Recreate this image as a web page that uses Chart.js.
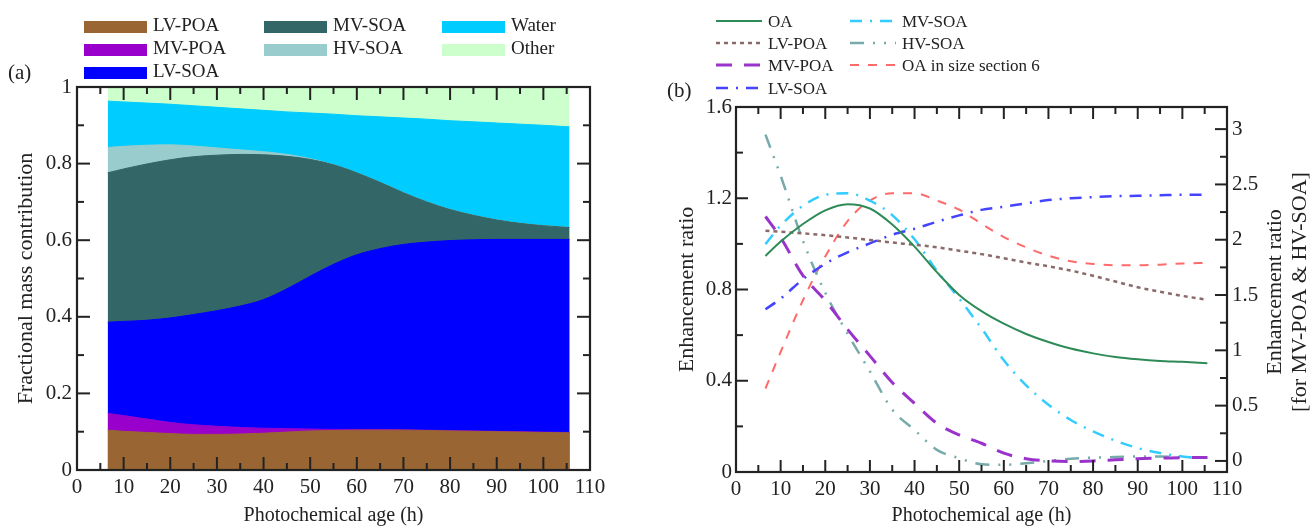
<!DOCTYPE html>
<html>
<head>
<meta charset="utf-8">
<script src="https://cdn.jsdelivr.net/npm/chart.js@4.4.1/dist/chart.umd.min.js"></script>
<style>
  html, body { margin: 0; padding: 0; background: #fff; }
  body { width: 1312px; height: 528px; position: relative; overflow: hidden; font-family: "Liberation Serif", "Times New Roman", serif; }
  #wrapA { position: absolute; left: 0; top: 0; width: 640px; height: 528px; }
  #wrapB { position: absolute; left: 640px; top: 0; width: 672px; height: 528px; }
  .panel { position: absolute; font-size: 21px; color: #222; line-height: 1; }
</style>
</head>
<body>
<div id="wrapA"><canvas id="massChart" width="640" height="528"></canvas></div>
<div id="wrapB"><canvas id="ratioChart" width="672" height="528"></canvas></div>
<div class="panel" style="left:8px; top:62px;">(a)</div>
<div class="panel" style="left:667px; top:80px;">(b)</div>
<script>
// photochemical age (h) shared by both panels
const ageHours = [6.6, 10, 15, 20, 25, 30, 35, 40, 45, 50, 55, 60, 65, 70, 75, 80, 85, 90, 95, 100, 105.6];

// (a) fractional mass contribution, stacked from bottom to top
const lvPoaFrac = [0.104, 0.101, 0.098, 0.095, 0.093, 0.093, 0.094, 0.096, 0.099, 0.102, 0.103, 0.104, 0.104, 0.104, 0.103, 0.102, 0.101, 0.100, 0.099, 0.098, 0.097];
const mvPoaFrac = [0.044, 0.041, 0.035, 0.029, 0.025, 0.021, 0.017, 0.013, 0.009, 0.005, 0.003, 0.002, 0.002, 0.001, 0.001, 0.001, 0.001, 0.001, 0.001, 0.001, 0.001];
const lvSoaFrac = [0.238, 0.246, 0.258, 0.273, 0.288, 0.302, 0.317, 0.336, 0.365, 0.399, 0.431, 0.456, 0.472, 0.484, 0.491, 0.496, 0.499, 0.501, 0.502, 0.503, 0.504];
const mvSoaFrac = [0.390, 0.398, 0.408, 0.413, 0.412, 0.406, 0.396, 0.378, 0.346, 0.305, 0.260, 0.214, 0.173, 0.135, 0.105, 0.081, 0.064, 0.051, 0.042, 0.036, 0.031];
const hvSoaFrac = [0.066, 0.059, 0.049, 0.039, 0.028, 0.019, 0.012, 0.008, 0.005, 0.002, 0, 0, 0, 0, 0, 0, 0, 0, 0, 0, 0];
const waterFrac = [0.121, 0.116, 0.110, 0.106, 0.105, 0.106, 0.107, 0.108, 0.111, 0.119, 0.132, 0.149, 0.171, 0.195, 0.216, 0.232, 0.244, 0.253, 0.259, 0.262, 0.263];
const otherFrac = [0.037, 0.039, 0.042, 0.045, 0.049, 0.053, 0.057, 0.061, 0.065, 0.068, 0.071, 0.075, 0.078, 0.081, 0.084, 0.088, 0.091, 0.094, 0.097, 0.100, 0.104];

// (b) enhancement ratios (left axis)
const oaRatio = [0.947, 1.01, 1.087, 1.147, 1.174, 1.155, 1.085, 0.988, 0.876, 0.776, 0.705, 0.65, 0.605, 0.57, 0.541, 0.52, 0.504, 0.494, 0.487, 0.483, 0.477];
const lvPoaRatio = [1.057, 1.053, 1.046, 1.038, 1.028, 1.017, 1.006, 0.996, 0.985, 0.970, 0.955, 0.937, 0.918, 0.902, 0.883, 0.860, 0.835, 0.810, 0.790, 0.772, 0.755];
const lvSoaRatio = [0.713, 0.76, 0.845, 0.913, 0.963, 1.002, 1.04, 1.066, 1.097, 1.125, 1.149, 1.163, 1.178, 1.192, 1.2, 1.205, 1.209, 1.211, 1.213, 1.215, 1.216];
const mvSoaRatio = [0.999, 1.08, 1.167, 1.215, 1.222, 1.19, 1.126, 1.02, 0.882, 0.76, 0.63, 0.49, 0.38, 0.295, 0.228, 0.178, 0.137, 0.105, 0.083, 0.068, 0.06];
const oaSec6Ratio = [0.366, 0.526, 0.753, 0.945, 1.10, 1.19, 1.222, 1.222, 1.19, 1.15, 1.088, 1.03, 0.985, 0.948, 0.924, 0.912, 0.906, 0.906, 0.909, 0.914, 0.917];
// (b) right axis: MV-POA & HV-SOA
const mvPoaRatio = [2.21, 2.02, 1.676, 1.45, 1.19, 0.95, 0.71, 0.52, 0.34, 0.235, 0.16, 0.07, 0.02, 0.0, -0.005, 0.0, 0.01, 0.02, 0.025, 0.03, 0.03];
const hvSoaRatio = [2.95, 2.58, 1.99, 1.52, 1.15, 0.81, 0.465, 0.28, 0.1, 0.025, -0.03, -0.035, -0.02, 0.0, 0.02, 0.03, 0.035, 0.04, 0.04, 0.035, 0.03];

const rightAxisTicks = [0, 0.5, 1, 1.5, 2, 2.5, 3];

const INK = '#222';
const SERIF = '"Liberation Serif", "Times New Roman", serif';
const fmt = v => String(+Number(v).toFixed(2));
const toPoints = ys => ageHours.map((x, i) => ({ x, y: ys[i] }));

// frame + inward major/minor ticks on the sides listed per scale
const frameTicks = {
    id: 'frameTicks',
    afterDraw(chart, args, opts) {
        const { ctx, chartArea: a, scales } = chart;
        ctx.save();
        ctx.strokeStyle = INK;
        ctx.lineWidth = 2;
        Object.keys(opts.sides).forEach(id => {
            const scale = scales[id];
            const vals = scale.ticks.map(t => t.value);
            const step = vals[1] - vals[0];
            const marks = vals.map(v => [v, opts.major]);
            for (let v = vals[0] - step / 2; v <= scale.max + 1e-9; v += step) {
                if (v >= scale.min - 1e-9) marks.push([v, opts.minor]);
            }
            marks.forEach(([v, len]) => {
                const p = scale.getPixelForValue(v);
                opts.sides[id].forEach(side => {
                    ctx.beginPath();
                    if (side === 'bottom') { ctx.moveTo(p, a.bottom); ctx.lineTo(p, a.bottom - len); }
                    if (side === 'top') { ctx.moveTo(p, a.top); ctx.lineTo(p, a.top + len); }
                    if (side === 'left') { ctx.moveTo(a.left, p); ctx.lineTo(a.left + len, p); }
                    if (side === 'right') { ctx.moveTo(a.right, p); ctx.lineTo(a.right - len, p); }
                    ctx.stroke();
                });
            });
        });
        ctx.lineWidth = 2.2;
        ctx.strokeRect(a.left, a.top, a.right - a.left, a.bottom - a.top);
        ctx.restore();
    }
};

// legend laid out in fixed columns, drawn from the datasets themselves
const slotLegend = {
    id: 'slotLegend',
    afterDraw(chart, args, opts) {
        const { ctx } = chart;
        ctx.save();
        ctx.font = opts.font;
        ctx.textBaseline = 'alphabetic';
        chart.data.datasets.forEach((ds, i) => {
            const [x, y] = opts.slots[i];
            if (opts.kind === 'box') {
                ctx.fillStyle = ds.backgroundColor;
                ctx.fillRect(x, y - 6, opts.sampleW, 12);
            } else {
                ctx.strokeStyle = ds.borderColor;
                ctx.lineWidth = ds.borderWidth;
                ctx.setLineDash(ds.borderDash || []);
                ctx.beginPath();
                ctx.moveTo(x, y);
                ctx.lineTo(x + opts.sampleW, y);
                ctx.stroke();
                ctx.setLineDash([]);
            }
            ctx.fillStyle = INK;
            ctx.fillText(ds.label, x + opts.sampleW + opts.gap, y + opts.textDy);
        });
        if (opts.sideTitle) {
            // right-hand axis title, reading bottom to top like the left one
            const t = opts.sideTitle;
            ctx.font = t.font;
            ctx.textAlign = 'center';
            ctx.textBaseline = 'middle';
            t.lines.forEach((line, k) => {
                ctx.save();
                ctx.translate(t.x[k], t.y);
                ctx.rotate(-Math.PI / 2);
                ctx.fillText(line, 0, 0);
                ctx.restore();
            });
        }
        ctx.restore();
    }
};

const axisX = (height) => ({
    type: 'linear', min: 0, max: 110,
    grid: { display: false, drawTicks: false }, border: { display: false },
    ticks: { stepSize: 10, padding: 5, color: INK, font: { family: SERIF, size: 21 }, maxRotation: 0, callback: fmt },
    title: { display: true, text: 'Photochemical age (h)', color: INK, font: { family: SERIF, size: 20 }, padding: { top: 0, bottom: 0 } },
    afterFit: s => { s.height = height; }
});

// ---- (a) stacked areas ----
const areaSet = (label, ys, color) => ({
    label, data: toPoints(ys), backgroundColor: color, borderColor: color,
    borderWidth: 1, fill: 'origin', pointRadius: 0, cubicInterpolationMode: 'monotone'
});

new Chart(document.getElementById('massChart'), {
    type: 'line',
    data: {
        datasets: [
            areaSet('LV-POA', lvPoaFrac, '#996633'),
            areaSet('MV-POA', mvPoaFrac, '#9900cc'),
            areaSet('LV-SOA', lvSoaFrac, '#0000ff'),
            areaSet('MV-SOA', mvSoaFrac, '#336666'),
            areaSet('HV-SOA', hvSoaFrac, '#99cccc'),
            areaSet('Water', waterFrac, '#00ccff'),
            areaSet('Other', otherFrac, '#ccffcc')
        ]
    },
    options: {
        responsive: false,
        animation: false,
        devicePixelRatio: 1,
        layout: { padding: { left: 0, top: 87, right: 50, bottom: 0 } },
        scales: {
            x: axisX(58),
            y: {
                stacked: true, min: 0, max: 1,
                grid: { display: false, drawTicks: false }, border: { display: false },
                ticks: { stepSize: 0.2, padding: 5, color: INK, font: { family: SERIF, size: 21 }, callback: fmt },
                title: { display: true, text: 'Fractional mass contribution', color: INK, font: { family: SERIF, size: 22 }, padding: { top: 13, bottom: 0 } },
                afterFit: s => { s.width = 77; }
            }
        },
        plugins: {
            legend: { display: false },
            tooltip: { enabled: false },
            frameTicks: { major: 13, minor: 7, sides: { x: ['bottom', 'top'], y: ['left', 'right'] } },
            slotLegend: {
                kind: 'box', font: '19px ' + SERIF, sampleW: 63, gap: 6, textDy: 4,
                slots: [[84, 27], [84, 50], [84, 73], [264, 27], [264, 50], [442, 27], [442, 50]]
            }
        }
    },
    plugins: [frameTicks, slotLegend]
});

// ---- (b) enhancement ratios ----
const ratioSet = (label, ys, color, dash, width, axis) => ({
    label, data: toPoints(ys), borderColor: color, backgroundColor: color,
    borderWidth: width, borderDash: dash, borderCapStyle: 'butt', fill: false,
    pointRadius: 0, cubicInterpolationMode: 'monotone', yAxisID: axis
});

new Chart(document.getElementById('ratioChart'), {
    type: 'line',
    data: {
        datasets: [
            ratioSet('OA', oaRatio, '#2e8b57', [], 2, 'y'),
            ratioSet('LV-POA', lvPoaRatio, '#8a6a6a', [4, 4], 2.5, 'y'),
            ratioSet('MV-POA', mvPoaRatio, '#9933cc', [16, 12], 3, 'y2'),
            ratioSet('LV-SOA', lvSoaRatio, '#4444ff', [12, 8, 2, 8], 2.5, 'y'),
            ratioSet('MV-SOA', mvSoaRatio, '#33ccff', [12, 8, 2, 8], 2.5, 'y'),
            ratioSet('HV-SOA', hvSoaRatio, '#77aaaa', [14, 9, 2, 9, 2, 9], 2.5, 'y2'),
            ratioSet('OA in size section 6', oaSec6Ratio, '#ff6a6a', [9, 9], 2, 'y')
        ]
    },
    options: {
        responsive: false,
        animation: false,
        devicePixelRatio: 1,
        layout: { padding: { left: 0, top: 107, right: 0, bottom: 0 } },
        scales: {
            x: axisX(56),
            y: {
                position: 'left', min: 0, max: 1.6,
                grid: { display: false, drawTicks: false }, border: { display: false },
                ticks: { stepSize: 0.4, padding: 4, color: INK, font: { family: SERIF, size: 21 }, callback: fmt },
                title: { display: true, text: 'Enhancement ratio', color: INK, font: { family: SERIF, size: 22 }, padding: { top: 34, bottom: 0 } },
                afterFit: s => { s.width = 96; }
            },
            y2: {
                position: 'right', min: -0.1, max: 3.2,
                grid: { display: false, drawTicks: false }, border: { display: false },
                afterBuildTicks: s => { s.ticks = rightAxisTicks.map(v => ({ value: v })); },
                ticks: { padding: 5, color: INK, font: { family: SERIF, size: 21 }, callback: fmt },
                afterFit: s => { s.width = 85; }
            }
        },
        plugins: {
            legend: { display: false },
            tooltip: { enabled: false },
            frameTicks: { major: 12, minor: 7, sides: { x: ['bottom', 'top'], y: ['left'], y2: ['right'] } },
            slotLegend: {
                kind: 'line', font: '17px ' + SERIF, sampleW: 46, gap: 6, textDy: 6,
                slots: [[76, 21], [76, 43], [76, 65], [76, 88], [210, 21], [210, 43], [210, 65]],
                sideTitle: {
                    lines: ['Enhancement ratio', '[for MV-POA & HV-SOA]'],
                    x: [635, 660], y: 292, font: '22px ' + SERIF
                }
            }
        }
    },
    plugins: [frameTicks, slotLegend]
});
</script>
</body>
</html>
